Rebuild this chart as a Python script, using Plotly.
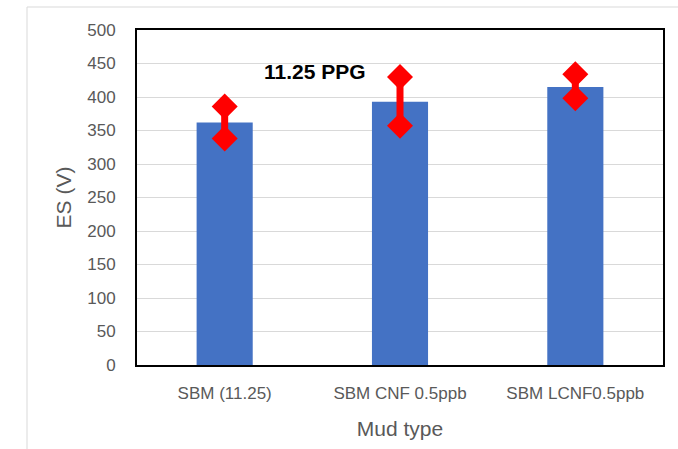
import plotly.graph_objects as go

categories = ["SBM (11.25)", "SBM CNF 0.5ppb", "SBM LCNF0.5ppb"]
es_values = [362, 393, 415]
err_plus = [24, 37, 19]
err_minus = [24, 36, 17]
y_ticks = [0, 50, 100, 150, 200, 250, 300, 350, 400, 450, 500]

W, H = 678, 449
L, R, T, B = 137, 15, 30, 84
pw, ph = W - L - R, H - T - B

fig = go.Figure()
fig.add_trace(go.Bar(
    x=categories, y=es_values, width=0.32,
    marker=dict(color="#4472C4", line=dict(width=0)),
    error_y=dict(type="data", symmetric=False, array=err_plus, arrayminus=err_minus,
                 color="#FF0000", thickness=7, width=0),
    showlegend=False, hoverinfo="skip",
))
ends_x = categories * 2
ends_y = [v + e for v, e in zip(es_values, err_plus)] + [v - e for v, e in zip(es_values, err_minus)]
fig.add_trace(go.Scatter(
    x=ends_x, y=ends_y, mode="markers",
    marker=dict(symbol="diamond", size=20, color="#FF0000", line=dict(width=0)),
    showlegend=False, hoverinfo="skip",
))

font_family = "Liberation Sans, Arial, sans-serif"
fig.update_layout(
    width=W, height=H,
    margin=dict(l=L, r=R, t=T, b=B, autoexpand=False),
    paper_bgcolor="white", plot_bgcolor="white",
    font=dict(family=font_family, color="#595959", size=16),
    xaxis=dict(
        showgrid=False, zeroline=False, showline=True, linecolor="black", linewidth=2,
        mirror=True, ticks="", tickfont=dict(size=17, color="#595959"),
        ticklabelstandoff=12,
        title=dict(text="Mud type", font=dict(size=21, color="#595959"), standoff=19),
        automargin=False,
    ),
    yaxis=dict(
        range=[0, 500], tickvals=y_ticks, showgrid=True, gridcolor="#D9D9D9", gridwidth=1,
        zeroline=False, showline=True, linecolor="black", linewidth=2, mirror=True,
        ticks="", tickfont=dict(size=17, color="#595959"), ticklabelstandoff=16,
        title=dict(text="ES (V)", font=dict(size=21, color="#595959"), standoff=10),
        automargin=False,
    ),
    annotations=[dict(
        text="<b>11.25 PPG</b>", xref="paper", yref="paper",
        x=(315 - L) / pw, y=1 - (57.5 - T) / ph, showarrow=False,
        font=dict(size=21, color="black", family=font_family),
    )],
    shapes=[dict(
        type="rect", xref="paper", yref="paper",
        x0=(27 - L) / pw, x1=1.5, y0=-0.6, y1=1 + (T - 7) / ph,
        line=dict(color="#D9D9D9", width=1), layer="below",
    )],
)
fig.write_html("out.html", config={"displayModeBar": False},
               post_script="document.body.style.margin='0px';")
